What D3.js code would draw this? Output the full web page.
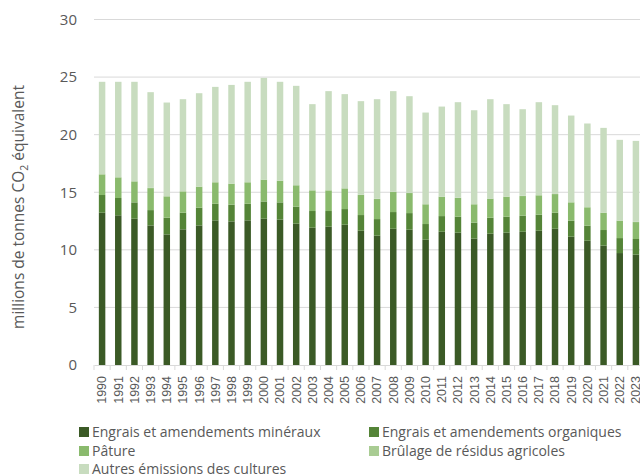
<!DOCTYPE html>
<html>
<head>
<meta charset="utf-8">
<script src="https://cdn.jsdelivr.net/npm/d3@7"></script>
<style>
  body { margin: 0; background: #fff; }
  svg { display: block; font-family: "Open Sans", sans-serif; }
</style>
</head>
<body>
<div id="chart"></div>
<script>
// years on the x axis
var years = d3.range(1990, 2024).map(String);

// values in millions of tonnes CO2 eq
var mineraux = [13.22, 13.0, 12.7, 12.12, 11.34, 11.78, 12.12, 12.56, 12.47, 12.56, 12.7,
  12.62, 12.27, 11.92, 12.01, 12.18, 11.66, 11.23, 11.83, 11.75, 10.88,
  11.57, 11.49, 10.97, 11.4, 11.49, 11.57, 11.66, 11.83, 11.14, 10.79,
  10.36, 9.72, 9.58];
var organiques = [1.54, 1.5, 1.42, 1.33, 1.45, 1.44, 1.54, 1.44, 1.45, 1.44, 1.5,
  1.5, 1.48, 1.45, 1.36, 1.36, 1.36, 1.44, 1.45, 1.44, 1.36,
  1.36, 1.39, 1.39, 1.39, 1.39, 1.39, 1.39, 1.39, 1.39, 1.31,
  1.36, 1.3, 1.36];
var pature = [1.79, 1.79, 1.82, 1.91, 1.85, 1.85, 1.82, 1.86, 1.82, 1.86, 1.89,
  1.88, 1.85, 1.79, 1.79, 1.79, 1.74, 1.74, 1.74, 1.74, 1.71,
  1.68, 1.62, 1.59, 1.65, 1.73, 1.71, 1.68, 1.62, 1.59, 1.59,
  1.5, 1.51, 1.47];
var brulage = [0.02, 0.02, 0.02, 0.02, 0.02, 0.02, 0.02, 0.02, 0.02, 0.02, 0.02,
  0.02, 0.02, 0.02, 0.02, 0.02, 0.02, 0.02, 0.02, 0.02, 0.02,
  0.02, 0.02, 0.02, 0.02, 0.02, 0.02, 0.02, 0.02, 0.02, 0.02,
  0.02, 0.02, 0.02];
var autres = [8.02, 8.28, 8.63, 8.31, 8.13, 7.99, 8.1, 8.27, 8.56, 8.71, 8.82,
  8.57, 8.62, 7.47, 8.6, 8.17, 8.13, 8.65, 8.74, 8.39, 7.95,
  7.81, 8.3, 8.15, 8.62, 8.02, 7.52, 8.07, 7.7, 7.52, 7.26,
  7.35, 7.0, 7.03];

var yTicks = [0, 5, 10, 15, 20, 25, 30];

var series = [
  {key: "min", name: "Engrais et amendements minéraux", values: mineraux, color: "#3b5a26"},
  {key: "org", name: "Engrais et amendements organiques", values: organiques, color: "#548437"},
  {key: "pat", name: "Pâture", values: pature, color: "#8aba6d"},
  {key: "bru", name: "Brûlage de résidus agricoles", values: brulage, color: "#a9cc93"},
  {key: "aut", name: "Autres émissions des cultures", values: autres, color: "#c8dcbf"}
];

// build table for d3.stack
var table = years.map(function(y, i) {
  var row = {year: y};
  series.forEach(function(s) { row[s.key] = s.values[i]; });
  return row;
});

var W = 640, H = 476;
var svg = d3.select("#chart").append("svg")
  .attr("width", W).attr("height", H);

var x = d3.scaleBand()
  .domain(years)
  .range([94, 644])
  .paddingInner(0.6)
  .paddingOuter(0.3);

var y = d3.scaleLinear()
  .domain([0, 30])
  .range([365, 19.5]);

// gridlines
svg.append("g")
  .selectAll("line")
  .data(yTicks.filter(function(d) { return d > 0; }))
  .join("line")
  .attr("x1", 94).attr("x2", 640)
  .attr("y1", function(d) { return y(d); })
  .attr("y2", function(d) { return y(d); })
  .attr("stroke", "#d9d9d9")
  .attr("stroke-width", 1);

// y tick labels
svg.append("g")
  .selectAll("text")
  .data(yTicks)
  .join("text")
  .attr("x", 77)
  .attr("y", function(d) { return y(d); })
  .attr("dy", "0.35em")
  .attr("text-anchor", "end")
  .attr("fill", "#595959")
  .style("font-size", "15px")
  .text(function(d) { return d; });

// stacked bars
var stack = d3.stack().keys(series.map(function(s) { return s.key; }));
var layers = stack(table);

svg.append("g")
  .selectAll("g")
  .data(layers)
  .join("g")
  .attr("fill", function(d, i) { return series[i].color; })
  .selectAll("rect")
  .data(function(d) { return d; })
  .join("rect")
  .attr("x", function(d) { return x(d.data.year); })
  .attr("width", x.bandwidth())
  .attr("y", function(d) { return y(d[1]); })
  .attr("height", function(d) { return y(d[0]) - y(d[1]); });

// x axis
var xAxis = svg.append("g")
  .attr("transform", "translate(0,365)")
  .call(d3.axisBottom(x).tickSize(0).tickPadding(6));
xAxis.select(".domain").attr("stroke", "#d9d9d9");
xAxis.selectAll("text")
  .attr("fill", "#595959")
  .style("font-size", "12.5px")
  .attr("transform", "rotate(-90)")
  .attr("text-anchor", "end")
  .attr("x", -11)
  .attr("y", 0)
  .attr("dy", "0.35em");

// category boundary tick marks
svg.append("g")
  .selectAll("line")
  .data(years)
  .join("line")
  .attr("x1", function(d) { return x(d) - x.step() * x.paddingInner() / 2; })
  .attr("x2", function(d) { return x(d) - x.step() * x.paddingInner() / 2; })
  .attr("y1", 365).attr("y2", 370)
  .attr("stroke", "#d9d9d9");

// y axis title
var yt = svg.append("text")
  .attr("transform", "translate(24,207) rotate(-90)")
  .attr("text-anchor", "middle")
  .attr("fill", "#595959")
  .style("font-size", "15.5px");
yt.append("tspan").text("millions de tonnes CO");
yt.append("tspan").attr("dy", 4).style("font-size", "10.5px").text("2");
yt.append("tspan").attr("dy", -4).text(" équivalent");

// legend
var legendPos = [[79, 432], [369, 432], [79, 451], [369, 451], [79, 469]];
var legend = svg.append("g")
  .selectAll("g")
  .data(series)
  .join("g")
  .attr("transform", function(d, i) { return "translate(" + legendPos[i][0] + "," + legendPos[i][1] + ")"; });
legend.append("rect")
  .attr("x", 0).attr("y", -5)
  .attr("width", 10).attr("height", 10)
  .attr("fill", function(d) { return d.color; });
legend.append("text")
  .attr("x", 13)
  .attr("dy", "0.35em")
  .attr("fill", "#595959")
  .style("font-size", "14px")
  .text(function(d) { return d.name; });
</script>
</body>
</html>
